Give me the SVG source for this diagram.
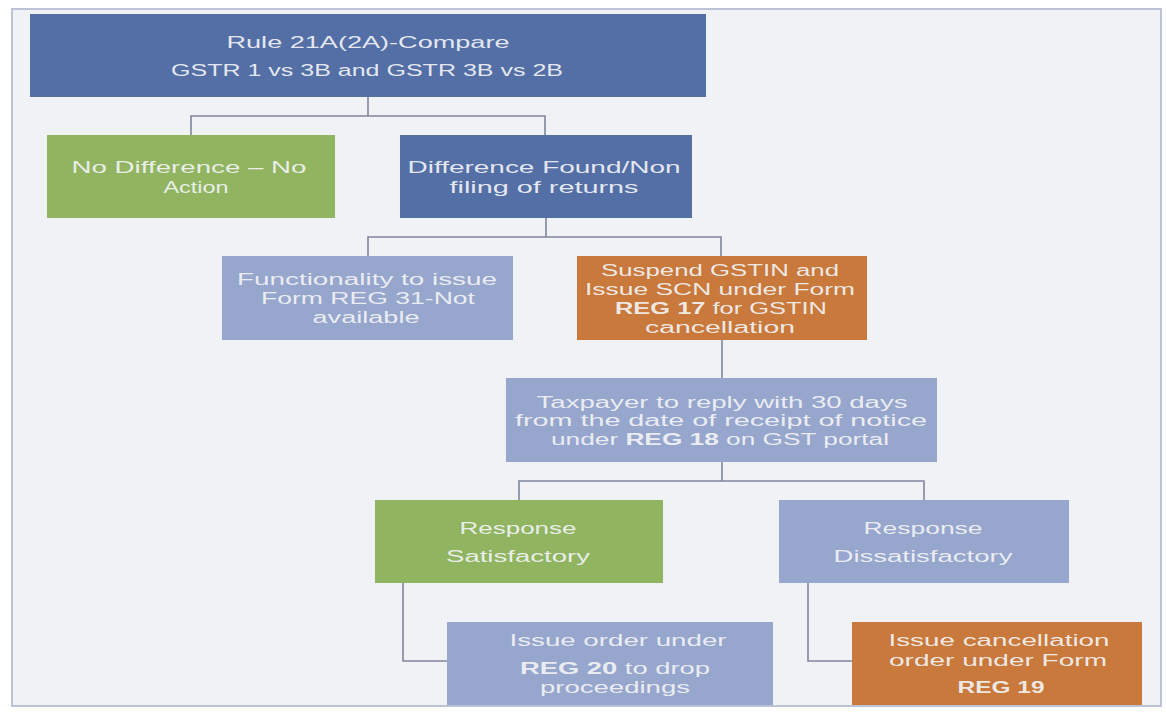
<svg xmlns="http://www.w3.org/2000/svg" width="1166" height="716" viewBox="0 0 1166 716">
<style>
.t{font-family:"Liberation Sans","Open Sans",sans-serif;font-size:16px;fill:#f3f4f7;fill-opacity:0.92;text-anchor:middle}
.b{font-weight:bold}
.blue{fill:#536fa6}
.green{fill:#91b461}
.lav{fill:#97a6cc}
.orange{fill:#c8793b}
.conn path{fill:none;stroke:#7f879c;stroke-width:1.6}
</style>
<rect x="0" y="0" width="1166" height="716" fill="#ffffff"/>
<rect x="12" y="9" width="1149" height="697" fill="#f1f2f6" stroke="#bcc3d6" stroke-width="2"/>
<g id="connectors" class="conn">
<path d="M368 97 V116"/>
<path d="M191 135 V116 H545 V135"/>
<path d="M546 218 V237"/>
<path d="M368 256 V237 H721 V256"/>
<path d="M722 340 V378"/>
<path d="M722 462 V481"/>
<path d="M519 500 V481 H924 V500"/>
<path d="M403 583 V661 H447"/>
<path d="M808 583 V661 H852"/>
</g>
<g id="n1">
<rect class="blue" x="30" y="14" width="676" height="83"/>
<text class="t" x="368" y="48" textLength="283" lengthAdjust="spacingAndGlyphs">Rule 21A(2A)-Compare</text>
<text class="t" x="367" y="76" textLength="392" lengthAdjust="spacingAndGlyphs">GSTR 1 vs 3B and GSTR 3B vs 2B</text>
</g>
<g id="n2">
<rect class="green" x="47" y="135" width="288" height="83"/>
<text class="t" x="189" y="173" textLength="235" lengthAdjust="spacingAndGlyphs">No Difference – No</text>
<text class="t" x="196" y="193" textLength="65" lengthAdjust="spacingAndGlyphs">Action</text>
</g>
<g id="n3">
<rect class="blue" x="400" y="135" width="292" height="83"/>
<text class="t" x="544" y="173" textLength="273" lengthAdjust="spacingAndGlyphs">Difference Found/Non</text>
<text class="t" x="544" y="193" textLength="189" lengthAdjust="spacingAndGlyphs">filing of returns</text>
</g>
<g id="n4">
<rect class="lav" x="222" y="256" width="291" height="84"/>
<text class="t" x="367" y="285" textLength="260" lengthAdjust="spacingAndGlyphs">Functionality to issue</text>
<text class="t" x="368" y="304" textLength="214" lengthAdjust="spacingAndGlyphs">Form REG 31-Not</text>
<text class="t" x="366" y="323" textLength="107" lengthAdjust="spacingAndGlyphs">available</text>
</g>
<g id="n5">
<rect class="orange" x="577" y="256" width="290" height="84"/>
<text class="t" x="720" y="276" textLength="238" lengthAdjust="spacingAndGlyphs">Suspend GSTIN and</text>
<text class="t" x="720" y="295" textLength="270" lengthAdjust="spacingAndGlyphs">Issue SCN under Form</text>
<text class="t" x="721" y="314" textLength="212" lengthAdjust="spacingAndGlyphs"><tspan class="b">REG 17</tspan> for GSTIN</text>
<text class="t" x="720" y="333" textLength="150" lengthAdjust="spacingAndGlyphs">cancellation</text>
</g>
<g id="n6">
<rect class="lav" x="506" y="378" width="431" height="84"/>
<text class="t" x="722" y="408" textLength="371" lengthAdjust="spacingAndGlyphs">Taxpayer to reply with 30 days</text>
<text class="t" x="721" y="426" textLength="412" lengthAdjust="spacingAndGlyphs">from the date of receipt of notice</text>
<text class="t" x="720" y="445" textLength="338" lengthAdjust="spacingAndGlyphs">under <tspan class="b">REG 18</tspan> on GST portal</text>
</g>
<g id="n7">
<rect class="green" x="375" y="500" width="288" height="83"/>
<text class="t" x="518" y="534" textLength="117" lengthAdjust="spacingAndGlyphs">Response</text>
<text class="t" x="518" y="562" textLength="144" lengthAdjust="spacingAndGlyphs">Satisfactory</text>
</g>
<g id="n8">
<rect class="lav" x="779" y="500" width="290" height="83"/>
<text class="t" x="923" y="534" textLength="119" lengthAdjust="spacingAndGlyphs">Response</text>
<text class="t" x="923" y="562" textLength="179" lengthAdjust="spacingAndGlyphs">Dissatisfactory</text>
</g>
<g id="n9">
<rect class="lav" x="447" y="622" width="326" height="83"/>
<text class="t" x="618" y="646" textLength="217" lengthAdjust="spacingAndGlyphs">Issue order under</text>
<text class="t" x="615" y="674" textLength="190" lengthAdjust="spacingAndGlyphs"><tspan class="b">REG 20</tspan> to drop</text>
<text class="t" x="615" y="693" textLength="150" lengthAdjust="spacingAndGlyphs">proceedings</text>
</g>
<g id="n10">
<rect class="orange" x="852" y="622" width="290" height="83"/>
<text class="t" x="999" y="646" textLength="221" lengthAdjust="spacingAndGlyphs">Issue cancellation</text>
<text class="t" x="998" y="666" textLength="218" lengthAdjust="spacingAndGlyphs">order under Form</text>
<text class="t b" x="1001" y="693" textLength="87" lengthAdjust="spacingAndGlyphs">REG 19</text>
</g>
</svg>
